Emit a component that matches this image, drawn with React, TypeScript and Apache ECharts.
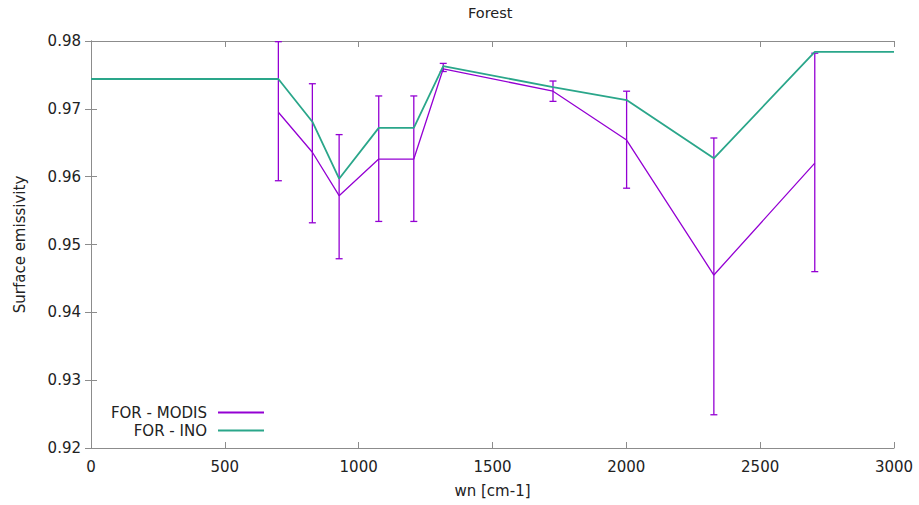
import React, { useEffect, useRef } from "react";
import * as echarts from "echarts";

const wnModis = [700, 827, 927, 1075, 1206, 1316, 1726, 2001, 2327, 2704];
const modis = [0.9695, 0.9636, 0.9572, 0.9626, 0.9626, 0.9759, 0.9726, 0.9654, 0.9455, 0.962];
const modisLow = [0.9594, 0.9532, 0.9479, 0.9534, 0.9534, 0.9755, 0.9711, 0.9583, 0.9249, 0.946];
const modisHigh = [0.9799, 0.9737, 0.9662, 0.9719, 0.9719, 0.9767, 0.9741, 0.9726, 0.9657, 0.9782];

const wnIno = [0, 700, 827, 927, 1075, 1206, 1316, 1726, 2001, 2327, 2704, 3000];
const ino = [0.9744, 0.9744, 0.9681, 0.9597, 0.9672, 0.9672, 0.9763, 0.9732, 0.9713, 0.9627, 0.9784, 0.9784];

const PURPLE = "#9400d3";
const GREEN = "#2aa68a";
const FONT = "DejaVu Sans";
const AXIS = "#8c8c8c";

export default function App() {
  const ref = useRef<HTMLDivElement>(null);
  useEffect(() => {
    if (!ref.current) return;
    const chart = echarts.init(ref.current, undefined, { renderer: "svg" });
    const tick = { show: true, inside: true, length: 6, lineStyle: { color: AXIS } };
    const line = { show: true, lineStyle: { color: AXIS, width: 1 } };
    const txt = { fontFamily: FONT, fontSize: 15, color: "#222" };
    chart.setOption({
      animation: false,
      backgroundColor: "#fff",
      title: {
        text: "Forest",
        left: 468,
        top: 5,
        padding: 0,
        textStyle: { ...txt, fontSize: 14.5, fontWeight: "normal" },
      },
      grid: { left: 91, right: 25, top: 41, bottom: 57 },
      legend: [
        {
          data: ["FOR - MODIS"],
          right: 655,
          top: 405,
          padding: 0,
          align: "right",
          icon: "rect",
          itemWidth: 46,
          itemHeight: 2,
          textStyle: { ...txt, padding: [0, 6, 0, 0] },
        },
        {
          data: ["FOR - INO"],
          right: 655,
          top: 423,
          padding: 0,
          align: "right",
          icon: "rect",
          itemWidth: 46,
          itemHeight: 2,
          textStyle: { ...txt, padding: [0, 6, 0, 0] },
        },
      ],
      xAxis: [
        {
          type: "value",
          min: 0,
          max: 3000,
          interval: 500,
          name: "wn [cm-1]",
          nameLocation: "middle",
          nameGap: 35,
          nameTextStyle: txt,
          axisLine: line,
          axisTick: tick,
          axisLabel: { ...txt, margin: 11, formatter: (v: number) => String(v) },
          splitLine: { show: false },
        },
        {
          type: "value",
          position: "top",
          min: 0,
          max: 3000,
          interval: 500,
          axisLine: line,
          axisTick: tick,
          axisLabel: { show: false },
          splitLine: { show: false },
        },
      ],
      yAxis: [
        {
          type: "value",
          min: 0.92,
          max: 0.98,
          interval: 0.01,
          name: "Surface emissivity",
          nameLocation: "middle",
          nameGap: 64,
          nameTextStyle: txt,
          axisLine: line,
          axisTick: tick,
          axisLabel: { ...txt, margin: 10, formatter: (v: number) => v.toFixed(2) },
          splitLine: { show: false },
        },
        {
          type: "value",
          position: "right",
          min: 0.92,
          max: 0.98,
          interval: 0.01,
          axisLine: line,
          axisTick: tick,
          axisLabel: { show: false },
          splitLine: { show: false },
        },
      ],
      series: [
        {
          name: "FOR - MODIS",
          type: "line",
          data: wnModis.map((x, i) => [x, modis[i]]),
          showSymbol: false,
          lineStyle: { color: PURPLE, width: 1.3 },
          itemStyle: { color: PURPLE },
          z: 3,
        },
        {
          name: "modis-err",
          type: "custom",
          data: wnModis.map((x, i) => [x, modisLow[i], modisHigh[i]]),
          renderItem: (params: any, api: any) => {
            const x = api.value(0);
            const lo = api.coord([x, api.value(1)]);
            const hi = api.coord([x, api.value(2)]);
            const w = 3.5;
            const style = { stroke: PURPLE, lineWidth: 1.3 };
            return {
              type: "group",
              children: [
                { type: "line", shape: { x1: lo[0], y1: lo[1], x2: hi[0], y2: hi[1] }, style },
                { type: "line", shape: { x1: lo[0] - w, y1: lo[1], x2: lo[0] + w, y2: lo[1] }, style },
                { type: "line", shape: { x1: hi[0] - w, y1: hi[1], x2: hi[0] + w, y2: hi[1] }, style },
              ],
            };
          },
          z: 3,
        },
        {
          name: "FOR - INO",
          type: "line",
          data: wnIno.map((x, i) => [x, ino[i]]),
          showSymbol: false,
          lineStyle: { color: GREEN, width: 1.8 },
          itemStyle: { color: GREEN },
          z: 4,
        },
      ],
    });
    return () => chart.dispose();
  }, []);
  return <div ref={ref} style={{ width: 919, height: 505, position: "absolute", left: 0, top: 0 }} />;
}
